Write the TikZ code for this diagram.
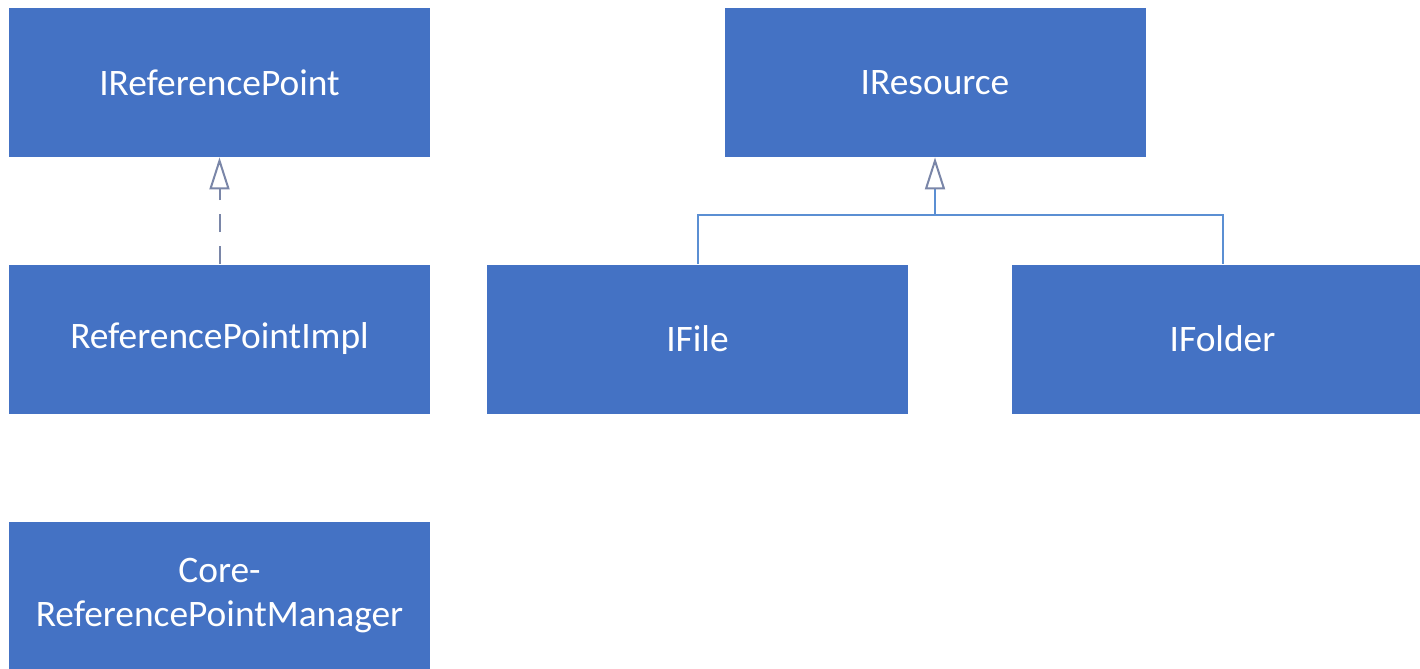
\documentclass[tikz,border=0pt]{standalone}
\usepackage{fontspec}
\setmainfont{Carlito}
\usetikzlibrary{arrows.meta}
\definecolor{boxblue}{HTML}{4472C4}
\definecolor{linkblue}{HTML}{5B8FD3}
\definecolor{headgrey}{HTML}{7A86A8}
\tikzset{
  classbox/.style={fill=boxblue, draw=none, inner sep=0pt,
    minimum width=210.5pt, minimum height=74.5pt,
    text=white, font=\fontsize{18.7}{22}\selectfont, align=center},
  realize/.style={draw=headgrey, line width=1pt, dash pattern=on 9pt off 7pt,
    -{Triangle[open, width=10pt, length=16pt, line width=1pt, fill=white]}},
  inherit/.style={draw=linkblue, line width=1pt},
  inherithead/.style={draw=linkblue, line width=1pt,
    -{Triangle[open, width=10pt, length=16pt, line width=1pt, fill=white, color=headgrey]}}
}
\begin{document}
\begin{tikzpicture}[x=0.5pt, y=-0.5pt]
  \useasboundingbox (0,0) rectangle (1420,669);
  \fill[white] (0,0) rectangle (1420,669);

  % class boxes
  \node[classbox] (irp)     at (219.5, 82.5)  {IReferencePoint};
  \node[classbox] (ires)    at (935, 82.5)    {IResource};
  \node[classbox] (rpi)     at (219.5, 339)   {ReferencePointImpl};
  \node[classbox] (ifile)   at (697.5, 339)   {IFile};
  \node[classbox] (ifolder) at (1222.5, 339)  {IFolder};
  \node[classbox] (core)    at (219.5, 596)   {Core-\\ReferencePointManager};

  % realization
  \draw[realize] (rpi.north) -- (irp.south);

  % generalization tree
  \coordinate (join) at (935, 215);
  \draw[inherit] (ifile.north) |- (join) -| (ifolder.north);
  \draw[inherithead] (join) -- (ires.south);
\end{tikzpicture}
\end{document}
